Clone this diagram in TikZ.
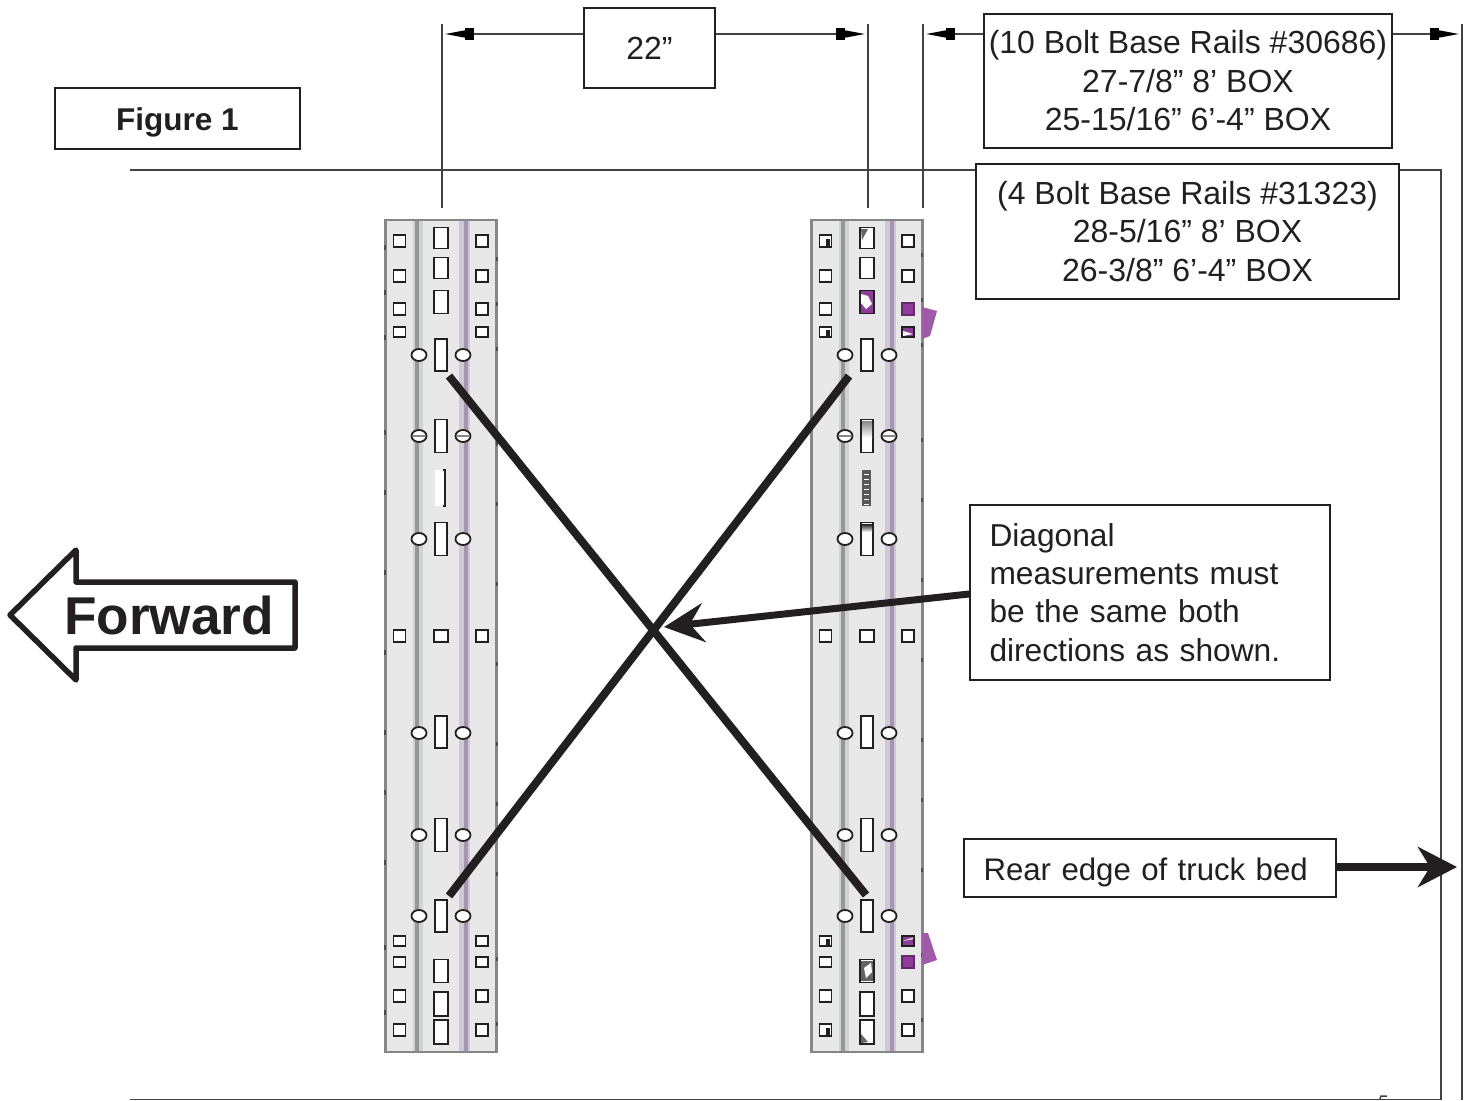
\documentclass[tikz,border=0pt]{standalone}
\usepackage{fontspec}
\setmainfont{Liberation Sans}
\usepackage{tikz}
\usetikzlibrary{arrows.meta,shapes,positioning}
\usepackage{xcolor}
\definecolor{dkink}{RGB}{35,31,32}
\definecolor{dkrail}{RGB}{232,232,232}
\definecolor{dkedge}{RGB}{135,135,135}
\definecolor{dkgroove}{RGB}{150,152,152}
\definecolor{dkgroovel}{RGB}{208,210,210}
\definecolor{dkgroovep}{RGB}{208,200,214}
\definecolor{dkgrooved}{RGB}{165,150,175}
\definecolor{dkpurple}{RGB}{142,62,152}
\tikzset{dimtip/.tip={Rectangle[length=9pt,width=12pt,color=black] Triangle[length=20pt,width=7pt,color=black]}}
\tikzstyle{labelbox} = [rectangle, draw=dkink, line width=1.7pt, fill=white, text=dkink, inner sep=0pt, align=center, font=\fontsize{32}{38.5}\selectfont]
\tikzstyle{noteline} = [line width=1.5pt, color=dkink!85]
\tikzstyle{dimline} = [noteline, -{dimtip}]
\tikzstyle{diagonal} = [line width=8pt, color=dkink]
\tikzstyle{bigarrow} = [line width=7pt, color=dkink, -{Stealth[length=40pt,width=39pt,inset=14pt]}]
\tikzstyle{rail} = [rectangle, draw=dkedge, line width=2.2pt, fill=dkrail, minimum width=111pt, minimum height=832pt, inner sep=0pt]
\tikzstyle{sqhole} = [rectangle, draw=dkink, line width=1.6pt, fill=white, minimum width=12pt, minimum height=12pt, inner sep=0pt]
\tikzstyle{slothole} = [rectangle, draw=dkink, line width=1.6pt, fill=white, minimum width=14pt, inner sep=0pt]
\tikzstyle{roundhole} = [ellipse, draw=dkink, line width=1.8pt, fill=white, minimum width=15pt, minimum height=12pt, inner sep=0pt]
\begin{document}
\begin{tikzpicture}[x=1pt, y=-1pt]
\useasboundingbox (0,0) rectangle (1472,1100);

% Rails
\node (railL) [rail] at (441,636) {};
\node (railR) [rail] at (867,636) {};
\foreach \gl/\gr in {417/465, 843/891} {
  \fill[dkgroovel] (\gl-4,221) rectangle (\gl+6,1051);
  \fill[dkgroove] (\gl-2,221) rectangle (\gl+2,1051);
  \fill[dkgroovep] (\gr-6,221) rectangle (\gr+5,1051);
  \fill[dkgrooved] (\gr-1,221) rectangle (\gr+3,1051);
}

% Side ticks of the rails
\foreach \y in {245,290,335,430,490,570,650,730,790,860,945,1010} {
  \fill[dkink!80] (384,\y) rectangle (386,\y+5);
  \fill[dkink!80] (496,\y+12) rectangle (498,\y+16);
  \fill[dkink!80] (921,\y+8) rectangle (923,\y+12);
}

% Holes
\foreach \cx in {441,867} {
  \foreach \y/\h in {332/10, 941/10, 962/10} {
    \node (sqa\cx\y) [sqhole, minimum height=\h pt] at (\cx-41.5,\y) {};
    \node (sqb\cx\y) [sqhole, minimum height=\h pt] at (\cx+41,\y) {};
  }
  \foreach \y in {241,276,309,636,996,1030} {
    \node (sqa\cx\y) [sqhole] at (\cx-41.5,\y) {};
    \node (sqb\cx\y) [sqhole] at (\cx+41,\y) {};
  }
  \foreach \y in {355,436,539,733,835,916} {
    \node (rda\cx\y) [roundhole] at (\cx-22,\y) {};
    \node (rdb\cx\y) [roundhole] at (\cx+22,\y) {};
  }
  \foreach \y/\h in {238/21, 268/21, 302/23, 971/23, 1004/24, 1032/24} {
    \node (slt\cx\y) [slothole, minimum height=\h pt] at (\cx,\y) {};
  }
  \foreach \y/\h in {355/32, 436/33, 539/33, 732/32, 835/33, 916/32} {
    \node (slt\cx\y) [slothole, minimum width=12pt, minimum height=\h pt] at (\cx,\y) {};
  }
  \node (slt\cx mid) [sqhole, minimum width=14pt, minimum height=12pt] at (\cx,636) {};
  % bands across the upper round holes
  \draw[dkedge, line width=2pt] (\cx-28,436) -- (\cx-16,436);
  \draw[dkedge, line width=2pt] (\cx+16,436) -- (\cx+28,436);
}

% Odd slots in the middle
\fill[white] (435,470) rectangle (446,506);
\draw[dkink, line width=1.2pt] (443,470) -- (445,470) -- (445,506) -- (443,506);
\fill[dkink!75] (862,470) rectangle (871,506);
\foreach \y in {474,479,...,504} {
  \draw[white, line width=1pt] (864,\y) -- (869,\y);
}
\shade[top color=dkedge, bottom color=white] (862,421) rectangle (872,438);
\shade[top color=dkink, bottom color=white] (862,524) rectangle (872,532);

% Purple parts
\node (pslot) [slothole, fill=dkpurple, minimum height=23pt] at (867,302) {};
\fill[white] (861,294) -- (868,296) -- (872,304) -- (866,309) -- (861,303) -- cycle;
\node (psqa) [sqhole, fill=dkpurple, draw=dkpurple!70!black] at (908,309) {};
\node (psqb) [sqhole, fill=dkpurple, minimum height=10pt] at (908,332) {};
\fill[white] (903,331) -- (913,334) -- (903,336) -- cycle;
\node (psqc) [sqhole, fill=dkpurple, minimum height=10pt] at (908,941) {};
\fill[white] (903,941) -- (913,937.5) -- (913,939) -- cycle;
\node (psqd) [sqhole, fill=dkpurple, draw=dkpurple!70!black] at (908,962) {};
\fill[dkpurple!85] (922,307) -- (937,311) -- (930,336) -- (922,339) -- cycle;
\fill[dkpurple!85] (922,933) -- (928,933) -- (937,960) -- (922,965) -- cycle;

% Scribbled holes
\fill[dkink!70] (861,961) rectangle (873,981);
\fill[white] (864,968) -- (871,963) -- (872,972) -- (866,978) -- cycle;
\fill[dkink!70] (861,229) -- (868,229) -- (862,240) -- cycle;
\fill[dkink!70] (861,1034) -- (868,1042) -- (861,1043) -- cycle;
\foreach \y in {241,332,941,1030} {
  \fill[dkink] (826,\y-2) rectangle (830,\y+5);
}

% Dimension boxes
\node (width) [labelbox, minimum width=131pt, minimum height=80pt] at (649.5,48) {22”};
\node (tenbolt) [labelbox, minimum width=408pt, minimum height=134pt] at (1188,81) {(10 Bolt Base Rails \#30686)\\27-7/8” 8’ BOX\\25-15/16” 6’-4” BOX};
\node (fourbolt) [labelbox, minimum width=423pt, minimum height=135pt] at (1187.5,231.5) {(4 Bolt Base Rails \#31323)\\28-5/16” 8’ BOX\\26-3/8” 6’-4” BOX};
\node (figure) [labelbox, minimum width=245pt, minimum height=61pt, font=\fontsize{31.5}{38}\selectfont\bfseries] at (177.5,118.5) {\raisebox{0pt}[23pt][0pt]{Figure 1}};

% Note boxes
\node (note) [labelbox, minimum width=360pt, minimum height=175pt, text width=321pt, align=left, font=\fontsize{31.7}{38.2}\selectfont] at (1150,592.5) {Diagonal\\measurements must\\be the same both\\directions as shown.};
\node (rear) [labelbox, minimum width=372pt, minimum height=58pt, text width=333pt, align=left, font=\fontsize{31.2}{38}\selectfont] at (1150,868) {\raisebox{0pt}[24pt][0pt]{Rear edge of truck bed}};

% Forward arrow
\node (forward) [inner sep=0pt, text=dkink, font=\fontsize{53.2}{60}\selectfont\bfseries] at (169,615) {Forward};
\draw[dkink, line width=5.5pt, line join=round] (10,615) -- (76,550) -- (76,582) -- (295,582) -- (295,648) -- (76,648) -- (76,680) -- cycle;

% Extension lines
\coordinate (extA) at (442,24);
\coordinate (extB) at (868,24);
\coordinate (extC) at (923,24);
\coordinate (extD) at (1462,24);
\draw[noteline] (extA) -- (442,208);
\draw[noteline] (extB) -- (868,208);
\draw[noteline] (extC) -- (923,208);
\draw[noteline] (extD) -- (1462,1100);

% Dimension lines
\coordinate (dimA) at (445,34);
\coordinate (dimB) at (865,34);
\coordinate (dimC) at (926,34);
\coordinate (dimD) at (1459,34);
\draw[dimline] (dimA -| width.west) -- (dimA);
\draw[dimline] (dimB -| width.east) -- (dimB);
\draw[dimline] (dimC -| tenbolt.west) -- (dimC);
\draw[dimline] (dimD -| tenbolt.east) -- (dimD);

% Truck bed
\coordinate (bedTL) at (130,170);
\coordinate (bedTR) at (1441,170);
\coordinate (bedBR) at (1441,1099.5);
\coordinate (bedBL) at (130,1099.5);
\draw[noteline] (bedTL) -- (bedTL -| fourbolt.west);
\draw[noteline] (bedTL -| fourbolt.east) -- (bedTR) -- (bedBR) -- (bedBL);
\draw[noteline] (1380,1099) -- (1381,1096) -- (1387,1096);

% Diagonals
\coordinate (diagA) at (449,376);
\coordinate (diagB) at (866,895);
\coordinate (diagC) at (849,376);
\coordinate (diagD) at (449,896);
\coordinate (cross) at (664,627);
\draw[diagonal] (diagA) -- (diagB);
\draw[diagonal] (diagC) -- (diagD);

% Arrows
\draw[bigarrow] (note.west |- 0,594) -- (cross);
\coordinate (rearend) at (1457,867);
\draw[bigarrow, line width=8pt, -{Stealth[length=39pt,width=40pt,inset=12pt]}] (rear.east |- rearend) -- (rearend);
\end{tikzpicture}
\end{document}
